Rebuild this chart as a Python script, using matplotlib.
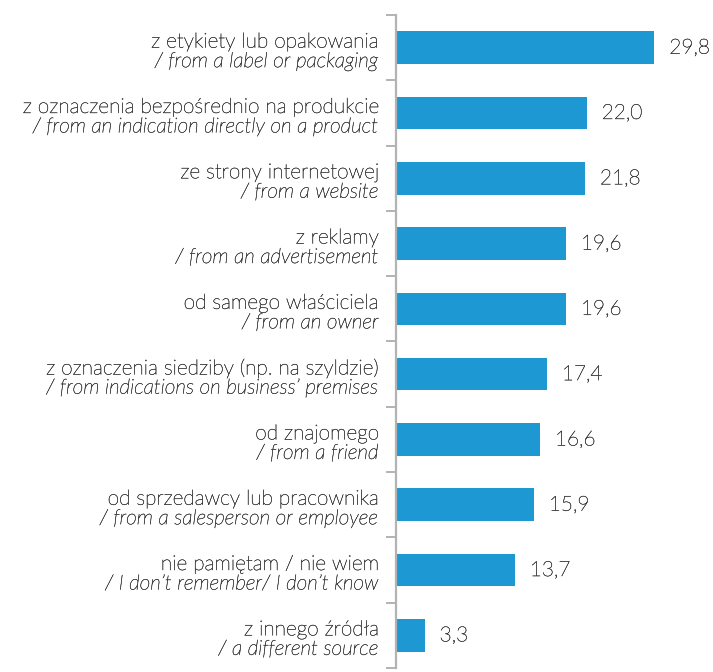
import matplotlib
matplotlib.use("Agg")
import matplotlib.pyplot as plt
import matplotlib.patheffects as pe
import numpy as np

labels_pl = [
    "z etykiety lub opakowania",
    "z oznaczenia bezpośrednio na produkcie",
    "ze strony internetowej",
    "z reklamy",
    "od samego właściciela",
    "z oznaczenia siedziby (np. na szyldzie)",
    "od znajomego",
    "od sprzedawcy lub pracownika",
    "nie pamiętam / nie wiem",
    "z innego źródła",
]
labels_en = [
    "/ from a label or packaging",
    "/ from an indication directly on a product",
    "/ from a website",
    "/ from an advertisement",
    "/ from an owner",
    "/ from indications on business’ premises",
    "/ from a friend",
    "/ from a salesperson or employee",
    "/ I don’t remember/ I don’t know",
    "/ a different source",
]
values = [29.8, 22.0, 21.8, 19.6, 19.6, 17.4, 16.6, 15.9, 13.7, 3.3]

BAR = "#1e98d3"
TEXT = "#404040"
AXIS = "#b3b3b3"

plt.rcParams["font.family"] = ["Lato", "DejaVu Sans"]

# slight stroke so the light face renders with a bit more body
thicken = [pe.withStroke(linewidth=0.3, foreground=TEXT)]

fig = plt.figure(figsize=(7.13, 6.72), dpi=100)
ax = fig.add_axes([396 / 713, 4 / 672, 312 / 713, 653 / 672])

n = len(values)
y = np.arange(n)
ax.barh(y, values, height=0.5, color=BAR)
ax.set_xlim(0, 36)
ax.set_ylim(n - 0.5, -0.5)

for yi, v in zip(y, values):
    ax.annotate(f"{v:.1f}".replace(".", ","), (v, yi), xytext=(15, 0),
                textcoords="offset pixels",
                va="center", ha="left", fontsize=15, color=TEXT,
                fontweight="light", path_effects=thicken)

for yi, pl, en in zip(y, labels_pl, labels_en):
    ax.annotate(pl, (0, yi), xycoords=("axes fraction", "data"),
                xytext=(-17, 6), textcoords="offset pixels",
                ha="right", va="center", fontsize=15, color=TEXT,
                fontweight="light", path_effects=thicken)
    ax.annotate(en, (0, yi), xycoords=("axes fraction", "data"),
                xytext=(-17, -13.5), textcoords="offset pixels",
                ha="right", va="center", fontsize=15, color=TEXT,
                fontstyle="italic", fontweight="light", path_effects=thicken)

for s in ["top", "right", "bottom"]:
    ax.spines[s].set_visible(False)
ax.spines["left"].set_color(AXIS)
ax.spines["left"].set_linewidth(1.6)
ax.set_xticks([])
ax.set_yticks(np.arange(n + 1) - 0.5)
ax.set_yticklabels([])
ax.tick_params(axis="y", length=7, width=1.4, color=AXIS, direction="out")

fig.savefig("out.png", dpi=100)
